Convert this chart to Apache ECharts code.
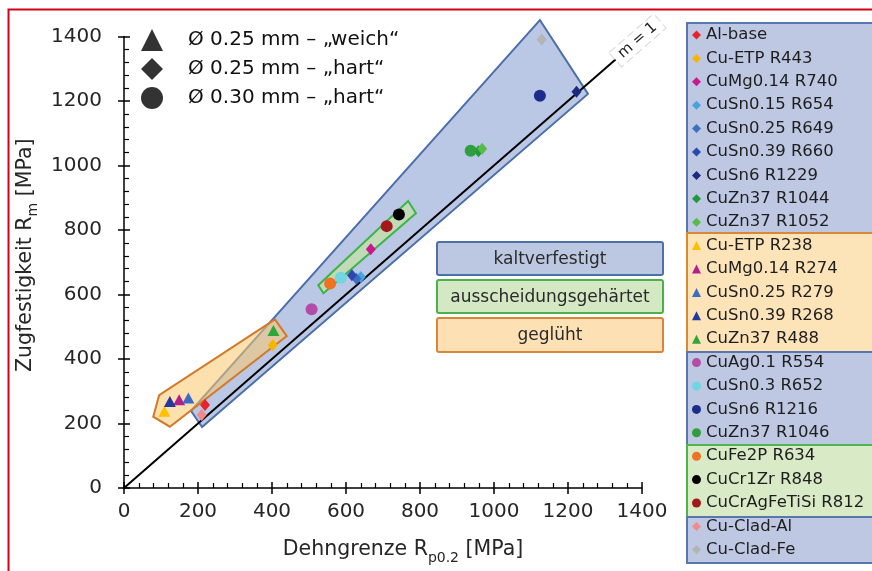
<!DOCTYPE html>
<html><head><meta charset="utf-8">
<script src="https://cdn.jsdelivr.net/npm/echarts@6/dist/echarts.min.js"></script>
<style>html,body{margin:0;padding:0;background:#fff}#c{width:872px;height:571px}</style>
</head><body><div id="c"></div>
<script>
// ---- data ----
const materials = ['Al-base','Cu-ETP R443','CuMg0.14 R740','CuSn0.15 R654','CuSn0.25 R649','CuSn0.39 R660','CuSn6 R1229','CuZn37 R1044','CuZn37 R1052',
  'Cu-ETP R238','CuMg0.14 R274','CuSn0.25 R279','CuSn0.39 R268','CuZn37 R488',
  'CuAg0.1 R554','CuSn0.3 R652','CuSn6 R1216','CuZn37 R1046',
  'CuFe2P R634','CuCr1Zr R848','CuCrAgFeTiSi R812',
  'Cu-Clad-Al','Cu-Clad-Fe'];
const rp02 = [219,402,667,640,628,616,1223,958,968, 109,149,174,124,404, 507,586,1124,937, 557,743,710, 210,1129];
const rm   = [257,443,740,654,649,660,1229,1044,1052, 238,274,279,268,488, 554,652,1216,1046, 634,848,812, 226,1391];
const shapes = ['d','d','d','d','d','d','d','d','d', 't','t','t','t','t', 'c','c','c','c', 'c','c','c', 'd','d'];
const shapeLegend = ['Ø 0.25 mm – „weich“','Ø 0.25 mm – „hart“','Ø 0.30 mm – „hart“'];
const ticksX = [0,200,400,600,800,1000,1200,1400];
const ticksY = [0,200,400,600,800,1000,1200,1400];
const unityLine = [[0,0],[1330,1330]];
const regionKalt = [[1124,1451],[1254,1222],[211,189],[181,239]];
const regionGeglueht = [[95,288],[79,221],[124,190],[440,471],[408,523]];
const regionAussch = [[525,629],[539,604],[789,852],[768,890]];

// ---- styles ----
const colors = ['#E8232A','#F7B500','#C8198E','#45A3DD','#3E70C2','#2B48AC','#1E2A7E','#1D9A3A','#58BA48',
  '#FFC000','#B3208C','#3A6CC4','#23399E','#2DA63A',
  '#B24CA6','#72D5E2','#1C2B8C','#2E9E3E',
  '#F27022','#000000','#A3191B',
  '#F2898A','#B4B4B4'];
const symMap = {d:'diamond', t:'triangle', c:'circle'};
const sizeMap = {d:[10,12], t:[12,11], c:12};
const FONT = 'DejaVu Sans';

const series = [];
function polySeries(verts, fill, stroke) {
  return {
    type:'custom', coordinateSystem:'cartesian2d', xAxisIndex:0, yAxisIndex:0, silent:true, clip:false, z:1,
    data:[verts[0]],
    renderItem: function(params, api) {
      return {type:'polygon', shape:{points: verts.map(v => api.coord(v))},
        style:{fill: fill, stroke: stroke, lineWidth: 2}};
    }
  };
}
series.push(polySeries(regionKalt, 'rgba(180,194,227,0.92)', '#4C6FA8'));
series.push(polySeries(regionGeglueht, 'rgba(250,200,110,0.55)', '#D27A2C'));
series.push(polySeries(regionAussch, 'rgba(198,224,170,0.75)', '#3DB44A'));
series.push({
  type:'line', data: unityLine, symbol:'none', silent:true, z:2,
  lineStyle:{color:'#000', width:2},
  markPoint:{ symbol:'rect', symbolSize:1, itemStyle:{color:'rgba(0,0,0,0)'}, silent:true,
    data:[{coord:[1388,1388]}],
    label:{show:true, formatter:'m = 1', position:'inside', rotate:41, fontSize:15, color:'#222', fontFamily:FONT,
      backgroundColor:'#fff', borderColor:'#d8d8d8', borderWidth:1, borderType:'dashed', padding:[2,6,1,6]}
  }
});
materials.forEach((name, i) => {
  series.push({
    type:'scatter', name: name, data:[[rp02[i], rm[i]]],
    symbol: symMap[shapes[i]], symbolSize: sizeMap[shapes[i]], z:5,
    itemStyle:{color: colors[i], opacity:1}
  });
});
['triangle','diamond','circle'].forEach((s, i) => {
  series.push({type:'scatter', name: shapeLegend[i], data:[], symbol:s, itemStyle:{color:'#000'}});
});

const legendBg = [
  {y0:23, y1:233, fill:'#BEC8E3', stroke:'#5877B0'},
  {y0:233, y1:352, fill:'#FDE3B8', stroke:'#D98838'},
  {y0:352, y1:445, fill:'#BEC8E3', stroke:'#5877B0'},
  {y0:445, y1:517, fill:'#D8EAC6', stroke:'#4FB44E'},
  {y0:517, y1:563, fill:'#BEC8E3', stroke:'#5877B0'}
];
const graphics = [];
graphics.push({type:'rect', left:6, top:7, shape:{width:880, height:580}, style:{fill:'none', stroke:'#D4001A', lineWidth:2}, z:100, silent:true});
legendBg.forEach(b => graphics.push({type:'rect', x:687, y:b.y0, shape:{x:0,y:0,width:190, height:b.y1-b.y0}, style:{fill:b.fill, stroke:b.stroke, lineWidth:2}, z:-10, silent:true}));
const boxes = [
  {y:242, h:33, text:'kaltverfestigt', fill:'#BCC8E2', stroke:'#4D70A8'},
  {y:280, h:33, text:'ausscheidungsgehärtet', fill:'#D5E8C4', stroke:'#4DB04A'},
  {y:318, h:34, text:'geglüht', fill:'#FDE1B5', stroke:'#D9853A'}
];
boxes.forEach(b => {
  graphics.push({type:'rect', shape:{x:437, y:b.y, width:226, height:b.h, r:2}, style:{fill:b.fill, stroke:b.stroke, lineWidth:2}, z:10, silent:true});
  graphics.push({type:'text', x:550, y:b.y + b.h/2 + 1, style:{text:b.text, fill:'#2a2a2a', font:'17px "DejaVu Sans"', textAlign:'center', textVerticalAlign:'middle'}, z:11, silent:true});
});

const richName = {a:{fontSize:20.5, color:'#262626', lineHeight:30, verticalAlign:'middle', fontFamily:FONT},
                  b:{fontSize:14, color:'#262626', lineHeight:20, verticalAlign:'bottom', fontFamily:FONT}};
const axisCommon = {type:'value', min:0, max:1400, interval:200, splitLine:{show:false}};
const option = {
  animation:false,
  textStyle:{fontFamily:FONT},
  grid:{left:124, right:230, top:36.5, bottom:83, containLabel:false},
  xAxis:[
    Object.assign({}, axisCommon, {position:'bottom',
      axisLine:{lineStyle:{color:'#000', width:1.5}},
      axisTick:{inside:true, length:6, lineStyle:{color:'#000', width:1.5}},
      minorTick:{show:true, splitNumber:5, length:5, lineStyle:{color:'#000', width:1.2}},
      axisLabel:{fontSize:20, color:'#262626', margin:14, formatter: v => ticksX.includes(v) ? String(v) : ''},
      name:'{a|Dehngrenze R}{b|p0.2}{a| [MPa]}', nameLocation:'middle', nameGap:47,
      nameTextStyle:{padding:[0,0,0,40], rich:richName}
    }),
    Object.assign({}, axisCommon, {position:'bottom', axisLine:{show:false}, axisLabel:{show:false},
      axisTick:{inside:false, length:6, lineStyle:{color:'#000', width:1.5}}})
  ],
  yAxis:[
    Object.assign({}, axisCommon, {position:'left',
      axisLine:{lineStyle:{color:'#000', width:1.5}},
      axisTick:{inside:true, length:6, lineStyle:{color:'#000', width:1.5}},
      minorTick:{show:true, splitNumber:5, length:5, lineStyle:{color:'#000', width:1.2}},
      axisLabel:{fontSize:20, color:'#262626', margin:22, formatter: v => ticksY.includes(v) ? String(v) : ''},
      name:'{a|Zugfestigkeit R}{b|m}{a| [MPa]}', nameLocation:'middle', nameGap:73,
      nameTextStyle:{padding:[0,0,0,14], rich:richName}
    }),
    Object.assign({}, axisCommon, {position:'left', axisLine:{show:false}, axisLabel:{show:false},
      axisTick:{inside:false, length:6, lineStyle:{color:'#000', width:1.5}}})
  ],
  legend:[
    {data: shapeLegend, orient:'vertical', left:141, top:29, itemWidth:22, itemHeight:22, itemGap:7, selectedMode:false, padding:0,
      textStyle:{fontSize:20, color:'#111', lineHeight:22, padding:[0,0,0,20], fontFamily:FONT}},
    {data: materials, orient:'vertical', left:692, top:26, itemWidth:9, itemHeight:9, itemGap:5.4, selectedMode:false, padding:0,
      textStyle:{fontSize:16.5, color:'#1e1e1e', lineHeight:18, fontFamily:FONT}}
  ],
  graphic: graphics,
  series: series
};
const chart = echarts.init(document.getElementById('c'), null, {renderer:'canvas'});
chart.setOption(option);
</script></body></html>
